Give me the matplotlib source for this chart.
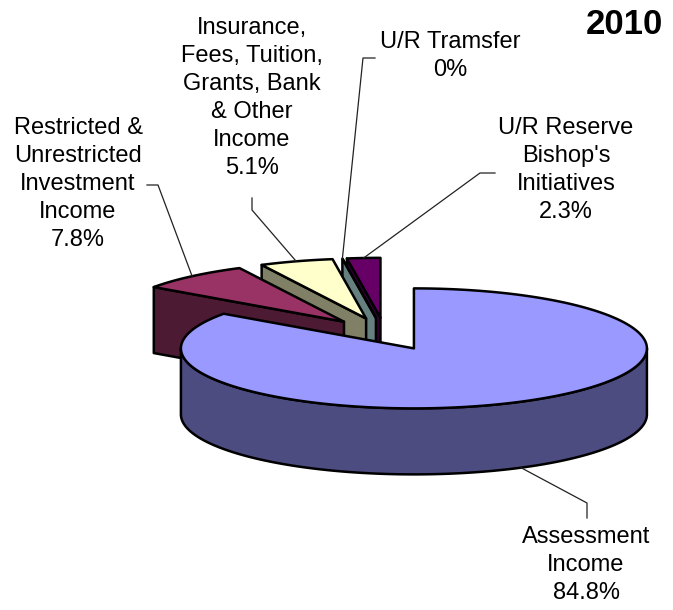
import numpy as np
import matplotlib
matplotlib.use("Agg")
import matplotlib.pyplot as plt
from matplotlib.patches import Polygon

# ---- data ----
categories = ["Assessment\nIncome",
              "Restricted &\nUnrestricted\nInvestment\nIncome",
              "Insurance,\nFees, Tuition,\nGrants, Bank\n& Other\nIncome",
              "U/R Tramsfer",
              "U/R Reserve\nBishop's\nInitiatives"]
values = [84.8, 7.8, 5.1, 0.0, 2.3]
pct_labels = ["84.8%", "7.8%", "5.1%", "0%", "2.3%"]
top_colors = ["#9999FF", "#993366", "#FFFFCC", "#CCFFFF", "#660066"]
side_colors = ["#4C4C80", "#4D1A33", "#808066", "#668080", "#330033"]
title = "2010"

# ---- layout ----
W, H = 673, 610
cx, cy = 385, 334          # pie centre (pixels)
A, B = 233, 60             # ellipse semi-axes
DEPTH = 66                 # thickness
EXPLODE = 0.27
label_xy = [(586, 565), (78, 184), (252, 98), (450, 56), (566, 170)]
leader_pts = [[(587, 518), (587, 503)],
              [(147, 185), (158, 185)],
              [(252, 198), (252, 210)],
              [(375, 58), (363, 58)],
              [(495, 173), (480, 173)]]

plt.rcParams['font.family'] = ['Liberation Sans', 'DejaVu Sans']
fig = plt.figure(figsize=(W / 100, H / 100), dpi=100)
ax = fig.add_axes([0, 0, 1, 1])
ax.set_xlim(0, W)
ax.set_ylim(H, 0)
ax.axis('off')

total = sum(values)
bounds = np.concatenate([[0], np.cumsum(values)]) / total * 360.0
LW = 1.8


def proj(theta, r, z, off):
    t = np.radians(theta)
    return (cx + off[0] + r * A * np.sin(t), cy + off[1] - r * B * np.cos(t) + z)


slices = []
for i, v in enumerate(values):
    t1, t2 = bounds[i], bounds[i + 1]
    mid = (t1 + t2) / 2
    m = np.radians(mid)
    off = (EXPLODE * A * np.sin(m), -EXPLODE * B * np.cos(m))
    slices.append((i, t1, t2, mid, off))

# painter's order: back first
order = sorted(slices, key=lambda s: -np.cos(np.radians(s[3])))

for i, t1, t2, mid, off in order:
    tc, sc = top_colors[i], side_colors[i]
    kw = dict(edgecolor='black', lw=LW, joinstyle='round')
    # radial walls
    for th, visible in ((t1, np.sin(np.radians(t1)) < -1e-9),
                        (t2, np.sin(np.radians(t2)) > 1e-9)):
        if visible:
            p0 = proj(th, 0, 0, off)
            p1 = proj(th, 1, 0, off)
            ax.add_patch(Polygon([p0, p1, (p1[0], p1[1] + DEPTH),
                                  (p0[0], p0[1] + DEPTH)], closed=True,
                                 facecolor=sc, **kw))
    # outer wall (front half)
    lo, hi = max(t1, 90), min(t2, 270)
    if hi > lo:
        th = np.linspace(lo, hi, 200)
        top = [proj(t, 1, 0, off) for t in th]
        bot = [proj(t, 1, DEPTH, off) for t in th[::-1]]
        ax.add_patch(Polygon(top + bot, closed=True, facecolor=sc, **kw))
    # top face
    th = np.linspace(t1, t2, max(2, int((t2 - t1) * 2) + 2))
    pts = [proj(0, 0, 0, off)] + [proj(t, 1, 0, off) for t in th]
    ax.add_patch(Polygon(pts, closed=True, facecolor=tc, **kw))

# labels and leader lines
for i, t1, t2, mid, off in slices:
    z = DEPTH if np.cos(np.radians(mid)) < 0 else 0
    end = proj(mid, 1, z, off)
    pts = leader_pts[i] + [end]
    ax.plot([p[0] for p in pts], [p[1] for p in pts], color='#222222',
            lw=0.9, zorder=5)
    ax.text(label_xy[i][0], label_xy[i][1],
            categories[i] + "\n" + pct_labels[i], ha='center', va='center',
            fontsize=17, linespacing=1.36, color='black', zorder=6)

ax.text(624, 25, title, ha='center', va='center', fontsize=25,
        fontweight='bold', color='black')

fig.savefig("out.png", dpi=100)
